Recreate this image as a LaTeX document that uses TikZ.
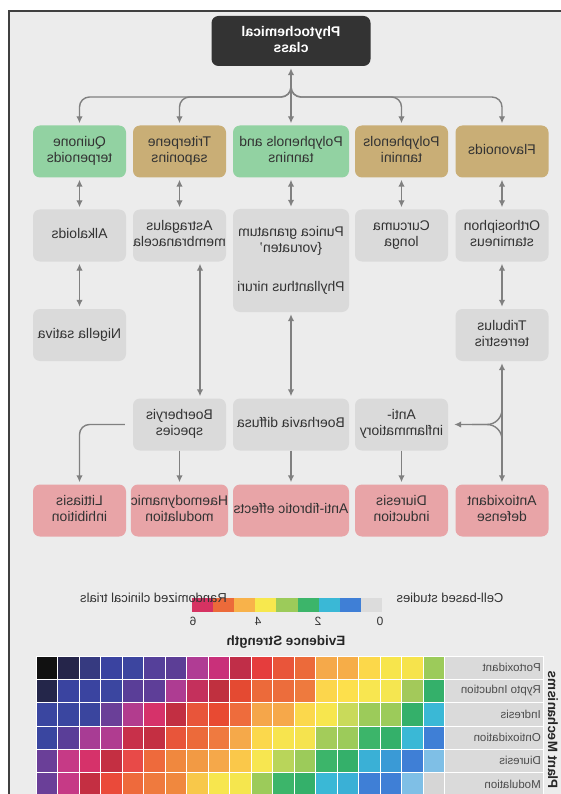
\documentclass[tikz,border=0pt]{standalone}
\usepackage{fontspec}
\setmainfont{Liberation Sans}
\usepackage{graphicx}
\usetikzlibrary{arrows.meta,calc}
\newcommand{\mt}[1]{\reflectbox{\begin{tabular}{@{}c@{}}#1\end{tabular}}}
\definecolor{bgc}{HTML}{ECECEC}
\definecolor{darkc}{HTML}{333333}
\definecolor{grnc}{HTML}{92D2A2}
\definecolor{tanc}{HTML}{C9AE76}
\definecolor{gryc}{HTML}{DADADA}
\definecolor{pnkc}{HTML}{E8A4A7}
\definecolor{arrc}{HTML}{808080}
\definecolor{txtc}{HTML}{333333}
\definecolor{cb1}{HTML}{D63262}
\definecolor{cb2}{HTML}{EC6A3A}
\definecolor{cb3}{HTML}{F8B24A}
\definecolor{cb4}{HTML}{F7E84E}
\definecolor{cb5}{HTML}{9CCB5A}
\definecolor{cb6}{HTML}{3CB56A}
\definecolor{cb7}{HTML}{3AB8D6}
\definecolor{cb8}{HTML}{3F7FD6}
\definecolor{cb9}{HTML}{DCDCDC}
\tikzset{
  mytip/.tip={Latex[length=7pt,width=6.5pt]},
  box/.style={rounded corners=7pt, minimum height=52pt, minimum width=93pt, inner sep=0pt,
    text=txtc, font=\fontsize{14}{16}\selectfont},
  wbox/.style={box, minimum width=116pt},
  line/.style={draw=arrc, line width=1.4pt},
  conn/.style={line, -mytip, shorten >=2pt},
  dconn/.style={line, mytip-mytip, shorten >=2pt, shorten <=2pt},
  lg/.style={text=txtc, inner sep=0pt, font=\fontsize{13}{15}\selectfont},
  hlab/.style={text=black!70, inner sep=0pt, anchor=east, font=\fontsize{11.5}{13}\selectfont},
}
\begin{document}
\begin{tikzpicture}[x=1pt,y=-1pt]
\useasboundingbox (0,0) rectangle (561,794);
\fill[white] (0,0) rectangle (561,794);
\fill[bgc] (9,11) rectangle (561,794);
\draw[line width=1.2pt, draw=black!75] (9,794) -- (9,11) -- (561,11);

% top
\node[box, fill=darkc, text=white, minimum width=159pt, minimum height=50pt,
  font=\bfseries\fontsize{14}{16}\selectfont] (top) at (291,41) {\mt{Phytochemical\\class}};

% row 1
\node[box, fill=grnc] (q1) at (79.5,151.5) {\mt{Quinone\\terpenoids}};
\node[box, fill=tanc] (q2) at (179.5,151.5) {\mt{Triterpene\\saponins}};
\node[wbox, fill=grnc] (q3) at (291,151.5) {\mt{Polyphenols and\\tannins}};
\node[box, fill=tanc] (q4) at (401.5,151.5) {\mt{Polyphenols\\tannini}};
\node[box, fill=tanc] (q5) at (502,151.5) {\mt{Flavonoids}};

% row 2
\node[box, fill=gryc] (r1) at (79.5,235.5) {\mt{Alkaloids}};
\node[box, fill=gryc] (r2) at (179.5,235.5) {\mt{Astragalus\\membranacela}};
\node[wbox, fill=gryc, minimum height=103pt] (r3) at (291,260.5)
  {\mt{Punica granatum\\\{voruaten'\\[23pt]Phyllanthus niruri}};
\node[box, fill=gryc] (r4) at (401.5,235.5) {\mt{Curcuma\\longa}};
\node[box, fill=gryc] (r5) at (502,235.5) {\mt{Orthosiphon\\stamineus}};

% row 2b
\node[box, fill=gryc] (s1) at (79.5,335) {\mt{Nigella sativa}};
\node[box, fill=gryc] (s5) at (502,335) {\mt{Tribulus\\terrestris}};

% row 3
\node[box, fill=gryc] (t2) at (179.5,424.5) {\mt{Boerberyis\\species}};
\node[wbox, fill=gryc] (t3) at (291,424.5) {\mt{Boerhavia diffusa}};
\node[box, fill=gryc] (t4) at (401.5,424.5) {\mt{Anti-\\inflammatiory}};

% row 4
\node[box, fill=pnkc] (u1) at (79.5,510.5) {\mt{Littiasis\\inhibition}};
\node[box, fill=pnkc] (u2) at (179.5,510.5) {\mt{Haemodynamic\\modulation}};
\node[wbox, fill=pnkc] (u3) at (291,510.5) {\mt{Anti-fibrotic effects}};
\node[box, fill=pnkc] (u4) at (401.5,510.5) {\mt{Diuresis\\induction}};
\node[box, fill=pnkc] (u5) at (502,510.5) {\mt{Antioxidant\\defense}};

% connectors from the top
\coordinate (hub) at (291,97);
\coordinate (hubtop) at (291,80);
\draw[conn] (hub) -- (top.south);
\foreach \n in {q1,q2,q4,q5}
  \draw[conn, rounded corners=10pt] (hubtop) -- (hub) -- (hub -| \n.north) -- (\n.north);
\draw[conn] (hub) -- (q3.north);

% row 1 <-> row 2
\foreach \a/\b in {q1/r1,q2/r2,q3/r3,q4/r4,q5/r5}
  \draw[dconn] (\a.south) -- (\b.north);
\draw[dconn] (r1.south) -- (s1.north);
\draw[dconn] (r5.south) -- (s5.north);
\draw[dconn] ([xshift=20.5pt]r2.south) -- ([xshift=20.5pt]r2.south |- t2.north);
\draw[dconn] (r3.south) -- (t3.north);

% brace on the right
\coordinate (bj) at (s5.south |- t4.east);
\draw[dconn] (s5.south) -- (u5.north);
\draw[conn, rounded corners=15pt, shorten >=6pt] ($(bj)+(0,-26)$) -- (bj) -- (t4.east);
\draw[line, rounded corners=15pt] ($(bj)+(0,26)$) -- (bj) -- ($(bj)+(-30,0)$);

% row 3 -> row 4
\draw[conn, rounded corners=10pt, shorten <=8pt] (t2.west) -- (t2.west -| u1.north) -- (u1.north);
\draw[conn] (t2.south) -- (u2.north);
\draw[conn] (t3.south) -- (u3.north);
\draw[conn] (t4.south) -- (u4.north);

% legend
\foreach \c [count=\i] in {cb1,cb2,cb3,cb4,cb5,cb6,cb7,cb8,cb9}
  \fill[\c] ({192+(\i-1)*21.1},598) rectangle ++(21.1,14);
\node[lg] (rct) at (153.5,599) {\mt{Randomized clinical trials}};
\node[lg] (cbs) at (450,599) {\mt{Cell-based studies}};
\node[lg, font=\fontsize{12}{14}\selectfont] (n6) at (193,623) {\mt{6}};
\node[lg, font=\fontsize{12}{14}\selectfont] (n4) at (258,623) {\mt{4}};
\node[lg, font=\fontsize{12}{14}\selectfont] (n2) at (318,623) {\mt{2}};
\node[lg, font=\fontsize{12}{14}\selectfont] (n0) at (380,623) {\mt{0}};
\node[lg, text=black!85, font=\bfseries\fontsize{13.5}{15}\selectfont] (evs) at (286,642) {\mt{Evidence Strength}};

% heatmap
\foreach \row/\lab [count=\i] in {
  {111111,25254A,363A80,3A43A0,3C459F,55409A,5C3E96,B03C94,C9307A,C02E48,E53D3D,E9553A,EC6A3A,F5A94A,F6AD48,FCD84A,F7E54C,F6E34C,9CCB5A}/Portoxidant,
  {24264A,3A44A0,3A44A0,3B46A0,5A3E98,5E3E98,AE3C92,C4305C,C0303F,E44A32,EC6A3A,EC6D3C,EE7A3E,FCD64C,FDE04C,F8E650,F5E650,A3C95A,34B06A}/Rypto Induction,
  {3A46A0,3A46A0,3A459E,6A3F98,B23C8E,D6326A,C22F42,E8553A,E84A32,EE6C3C,F5A64A,F6A84A,FBD84C,F7E64E,C9DA5A,9CCB5A,9CCB5A,34B06A,3AB8D6}/Indresis,
  {3A46A0,5A3E98,A83C94,B03C90,C8304A,C42F42,E8553A,EC6A3A,EF7A40,F5A94A,FBD84C,F7E44E,F5E34E,A3CC5A,9CCB5A,3CB56A,34B06A,3AB8D6,3F7FD6}/Ontioxidation,
  {6A3F98,C63A86,D6326A,C42F42,E84A48,EE6A3C,F0883E,F29A44,F5A84A,FAC84A,F7E650,B9D55A,9CCB5A,3CB56A,34B06A,3AB0D6,3A9AD6,3F7FD6,7FBFE6}/Diuresis,
  {6A3F98,C63A86,C42F42,EA4A3A,EE6A3C,EF7A3E,F0883E,F8C84A,F7E64E,F5E64E,9CCB5A,3CB56A,34B06A,3AB8D6,3AB0D6,3F7FD6,3F7FD6,7FBFE6,D6D6D6}/Modulation}
{
  \foreach \c [count=\j] in \row {
    \definecolor{tmpc}{HTML}{\c}
    \filldraw[fill=tmpc, draw=white, line width=0.8pt]
      ({36+(\j-1)*21.5},{656+(\i-1)*23.3}) rectangle ++(21.5,23.3);
  }
  \filldraw[fill=gryc, draw=white, line width=0.8pt]
    (444.5,{656+(\i-1)*23.3}) rectangle ++(98.5,23.3);
  \node[hlab] (lab\i) at (541,{667.6+(\i-1)*23.3}) {\reflectbox{\lab}};
}
\node[rotate=-90, inner sep=0pt, text=black!85, font=\bfseries\fontsize{13.5}{15}\selectfont] (pm) at (553,730)
  {\reflectbox{Plant Mechanisms}};
\end{tikzpicture}
\end{document}
